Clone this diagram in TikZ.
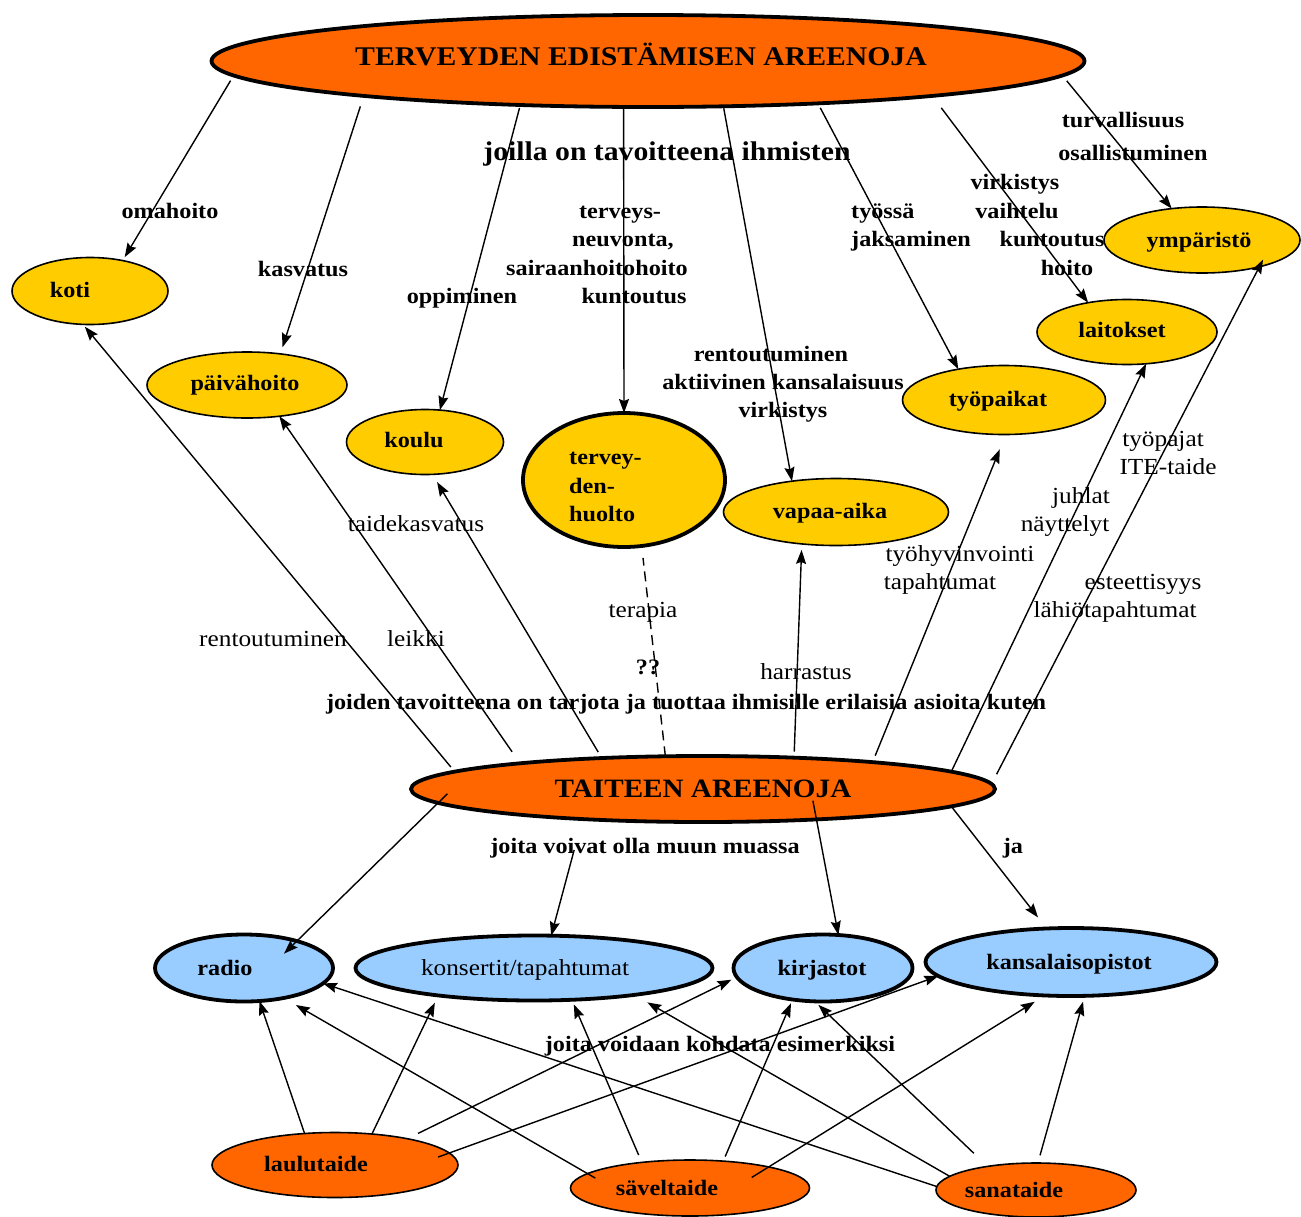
\documentclass[tikz,border=0pt]{standalone}
\usepackage{fontspec}
\setmainfont{Liberation Serif}[FakeStretch=1.1]
\usetikzlibrary{shapes.geometric,arrows.meta}
\definecolor{orng}{HTML}{FF6600}
\definecolor{yelc}{HTML}{FFCC00}
\definecolor{lblue}{HTML}{99CCFF}
\newcommand\fB{\fontsize{22}{28.5}\selectfont\bfseries}
\newcommand\fR{\fontsize{23}{28.5}\selectfont}
\newcommand\fT{\fontsize{27}{32}\selectfont\bfseries}
\begin{document}
\begin{tikzpicture}[x=1pt,y=-1pt,
  ell/.style={ellipse, inner sep=0pt, outer sep=0pt},
  thinb/.style={draw=black, line width=1.6pt},
  thickb/.style={draw=black, line width=3.8pt},
  yelnode/.style={ell, fill=yelc, thinb},
  yelthick/.style={ell, fill=yelc, thickb},
  bluenode/.style={ell, fill=lblue, thickb},
  ornode/.style={ell, fill=orng, thinb},
  orthick/.style={ell, fill=orng, thickb},
  arr/.style={line width=1.4pt, -{Stealth[length=14pt,width=10pt,inset=2pt]}},
  dashline/.style={line width=1.4pt, dash pattern=on 10pt off 6pt},
  lb/.style={inner sep=0pt, font=\fB, text height=15pt, text depth=5pt},
  lr/.style={inner sep=0pt, font=\fR, text height=16pt, text depth=5pt},
  lt/.style={inner sep=0pt, font=\fT, text height=19pt, text depth=6pt},
  lml/.style={inner sep=0pt, font=\fB, align=left, anchor=west}
]
\useasboundingbox[fill=white] (0,0) rectangle (1301,1216);

% ---------- ellipses ----------
\node[orthick, minimum width=873, minimum height=92] (top) at (648,61) {};
\node[yelnode, minimum width=156, minimum height=67] (koti) at (90,291) {};
\node[yelnode, minimum width=200, minimum height=66] (paiv) at (247,385) {};
\node[yelnode, minimum width=157, minimum height=65] (koulu) at (425,442) {};
\node[yelthick, minimum width=202, minimum height=134] (terv) at (624,480) {};
\node[yelnode, minimum width=225, minimum height=67] (vapaa) at (836,512) {};
\node[yelnode, minimum width=203, minimum height=69] (tyop) at (1004,400) {};
\node[yelnode, minimum width=180, minimum height=65] (lait) at (1127,332) {};
\node[yelnode, minimum width=196, minimum height=66] (ymp) at (1202,240) {};
\node[orthick, minimum width=584, minimum height=66] (taide) at (703,789) {};
\node[bluenode, minimum width=178, minimum height=67] (radio) at (244,968) {};
\node[bluenode, minimum width=357, minimum height=65] (kons) at (534,968) {};
\node[bluenode, minimum width=179, minimum height=67] (kirj) at (823,968) {};
\node[bluenode, minimum width=291, minimum height=68] (kans) at (1071,962) {};
\node[ornode, minimum width=246, minimum height=65] (laulu) at (335,1165) {};
\node[ornode, minimum width=239, minimum height=56] (savel) at (690,1188) {};
\node[ornode, minimum width=200, minimum height=54] (sana) at (1036,1190) {};

% ---------- texts inside ellipses ----------
\node[lt] (top-t) at (641,59) {TERVEYDEN EDISTÄMISEN AREENOJA};
\node[lb] (koti-t) at (70,292) {koti};
\node[lb] (paiv-t) at (245,385) {päivähoito};
\node[lb] (koulu-t) at (414,442) {koulu};
\node[lml] (terv-t) at (569,487) {tervey-\\den-\\huolto};
\node[lb] (vapaa-t) at (830,513) {vapaa-aika};
\node[lb] (tyop-t) at (998,401) {työpaikat};
\node[lb] (lait-t) at (1122,332) {laitokset};
\node[lb] (ymp-t) at (1199,242) {ympäristö};
\node[lt, font=\fontsize{26.5}{32}\selectfont\bfseries] (taide-t) at (703,791) {TAITEEN AREENOJA};
\node[lb] (radio-t) at (225,970) {radio};
\node[lr] (kons-t) at (525,970) {konsertit/tapahtumat};
\node[lb] (kirj-t) at (822,970) {kirjastot};
\node[lb] (kans-t) at (1069,964) {kansalaisopistot};
\node[lb] (laulu-t) at (316,1166) {laulutaide};
\node[lb] (savel-t) at (667,1190) {säveltaide};
\node[lb] (sana-t) at (1014,1192) {sanataide};

% ---------- free labels ----------
\node[lt, font=\fontsize{27}{32}\selectfont\bfseries] (l0) at (667,154) {joilla on tavoitteena ihmisten};
\node[lb] (l1) at (170,213) {omahoito};
\node[lb] (l2) at (303,271) {kasvatus};
\node[lb] (l3) at (462,298) {oppiminen};
\node[lb] (l4) at (620,213) {terveys-};
\node[lb] (l5) at (623,241) {neuvonta,};
\node[lb] (l6) at (597,270) {sairaanhoitohoito};
\node[lb] (l7) at (634,298) {kuntoutus};
\node[lb] (l8) at (771,356) {rentoutuminen};
\node[lb] (l9) at (783,384) {aktiivinen kansalaisuus};
\node[lb] (l10) at (783,412) {virkistys};
\node[lb, anchor=west] (l11) at (851,213) {työssä};
\node[lb, anchor=west] (l12) at (851,241) {jaksaminen};
\node[lb] (l13) at (1015,184) {virkistys};
\node[lb] (l14) at (1017,213) {vaihtelu};
\node[lb] (l15) at (1052,241) {kuntoutus};
\node[lb] (l16) at (1067,270) {hoito};
\node[lb] (l17) at (1123,122) {turvallisuus};
\node[lb] (l18) at (1133,155) {osallistuminen};

\node[lr] (m1) at (416,526) {taidekasvatus};
\node[lr] (m2) at (273,641) {rentoutuminen};
\node[lr] (m3) at (416,641) {leikki};
\node[lr] (m4) at (643,612) {terapia};
\node[lb] (m5) at (648,669) {??};
\node[lr] (m6) at (806,674) {harrastus};
\node[lr] (m7) at (960,556) {työhyvinvointi};
\node[lr] (m8) at (940,584) {tapahtumat};
\node[lr] (m9) at (1081,498) {juhlat};
\node[lr] (m10) at (1065,526) {näyttelyt};
\node[lr] (m11) at (1163,441) {työpajat};
\node[lr] (m12) at (1168,469) {ITE-taide};
\node[lr] (m13) at (1143,584) {esteettisyys};
\node[lr] (m14) at (1115,612) {lähiötapahtumat};
\node[lb] (m15) at (686,704) {joiden tavoitteena on tarjota ja tuottaa ihmisille erilaisia asioita kuten};
\node[lb] (m16) at (645,848) {joita voivat olla muun muassa};
\node[lb] (m17) at (1013,848) {ja};
\node[lb] (m18) at (720,1046) {joita voidaan kohdata esimerkiksi};

% ---------- connectors: top arena -> places ----------
\draw[arr, shorten <=6pt, shorten >=4pt] (top.182.3) -- (koti.43.5);
\draw[arr, shorten <=11pt, shorten >=7pt] (top.187.8) -- (paiv.43.1);
\draw[arr, shorten <=3pt] (top.199.4) -- (koulu.65.4);
\draw[arr, shorten <=1pt] (top.242.4) -- (terv.90);
\draw[arr, shorten <=2pt] (top.329.75) -- (vapaa.145.2);
\draw[arr, shorten <=5pt] (top.346.2) -- (tyop.146.2);
\draw[arr, shorten <=15pt] (top.353.6) -- (lait.143.5);
\draw[arr, shorten <=7pt] (top.358.9) -- (ymp.134.9);

% ---------- connectors: art arena -> places ----------
\draw[arr, shorten <=6pt, shorten >=3pt] (taide.176.96) -- (koti.258.7);
\draw[arr, shorten <=14pt] (taide.172.4) -- (paiv.316.6);
\draw[arr, shorten <=7pt, shorten >=9pt] (taide.163.7) -- (koulu.283);
\draw[dashline, shorten >=12pt] (taide.139.1) -- (terv.285);
\draw[arr, shorten <=6pt, shorten >=6pt] (taide.19.07) -- (vapaa.223.5);
\draw[arr, shorten <=7pt, shorten >=16pt] (taide.9.18) -- (tyop.273.6);
\draw[arr] (taide.4.08) -- (lait.301.1);
\draw[arr, shorten <=11pt, shorten >=-8pt] (taide.1.4) -- (ymp.335.9);

% ---------- connectors: art arena -> institutions ----------
\draw[arr, shorten <=-13pt, shorten >=-18pt] (taide.183.76) -- (radio.27.1);
\draw[arr, shorten <=32pt] (taide.194.6) -- (kons.62.4);
\draw[arr, shorten <=-19pt] (taide.345.5) -- (kirj.65.7);
\draw[arr, shorten >=14pt] (taide.356.2) -- (kans.126.7);

% ---------- connectors: art forms -> institutions ----------
\draw[arr] (laulu.134.5) -- (radio.295.9);
\draw[arr, shorten >=8pt] (laulu.40.8) -- (kons.196.1);
\draw[arr, shorten <=12pt, shorten >=6pt] (laulu.20.5) -- (kirj.186.1);
\draw[arr, shorten <=-12pt] (laulu.6.2) -- (kans.186.5);
\draw[arr, shorten <=-9pt, shorten >=14pt] (savel.172.2) -- (radio.323.1);
\draw[arr, shorten <=8pt, shorten >=5pt] (savel.152.3) -- (kons.320.7);
\draw[arr, shorten <=5pt, shorten >=4pt] (savel.39.2) -- (kirj.226.8);
\draw[arr, shorten <=-20pt, shorten >=12pt] (savel.15.9) -- (kans.232.8);
\draw[arr] (sana.178.1) -- (radio.349);
\draw[arr, shorten >=15pt] (sana.171.2) -- (kons.345.9);
\draw[arr, shorten <=19pt, shorten >=5pt] (sana.154.5) -- (kirj.256.5);
\draw[arr, shorten <=8pt, shorten >=6pt] (sana.86.9) -- (kans.292.5);
\end{tikzpicture}
\end{document}
